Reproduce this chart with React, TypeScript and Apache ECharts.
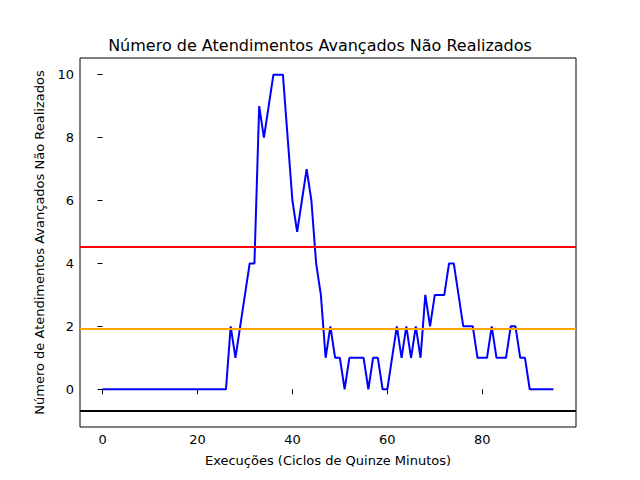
import React, { useEffect, useRef } from "react";
import * as echarts from "echarts";

const values = [
  0, 0, 0, 0, 0, 0, 0, 0, 0, 0, 0, 0, 0, 0, 0, 0, 0, 0, 0, 0, 0, 0, 0, 0, 0, 0,
  0, 2, 1, 2, 3, 4, 4, 9, 8, 9, 10, 10, 10, 8, 6, 5, 6, 7, 6, 4, 3, 1, 2, 1,
  1, 0, 1, 1, 1, 1, 0, 1, 1, 0, 0, 1, 2, 1, 2, 1, 2, 1, 3, 2, 3, 3, 3, 4, 4,
  3, 2, 2, 2, 1, 1, 1, 2, 1, 1, 1, 2, 2, 1, 1, 0, 0, 0, 0, 0, 0,
];
const xTicks = [0, 20, 40, 60, 80];
const yTicks = [0, 2, 4, 6, 8, 10];
const refLines = [
  { value: 4.52, color: "#ff0000" },
  { value: 1.91, color: "#ffa500" },
  { value: -0.67, color: "#000000" },
];

const font = "DejaVu Sans";

const App = () => {
  const chartRef = useRef<HTMLDivElement>(null);

  useEffect(() => {
    const chart = echarts.init(chartRef.current, null, { renderer: "svg" });
    chart.setOption({
      animation: false,
      textStyle: { fontFamily: font },
      title: {
        text: "Número de Atendimentos Avançados Não Realizados",
        left: "center",
        top: 32,
        textStyle: { fontFamily: font, fontSize: 16, fontWeight: "normal", color: "#000" },
      },
      grid: {
        left: 80, right: 64, top: 58, bottom: 53,
        show: true, borderColor: "#000", borderWidth: 1,
      },
      xAxis: {
        type: "value",
        min: -4.75,
        max: 99.75,
        name: "Execuções (Ciclos de Quinze Minutos)",
        nameLocation: "middle",
        nameGap: 27,
        nameTextStyle: { fontFamily: font, fontSize: 13, color: "#000" },
        splitLine: { show: false },
        axisLine: { show: false },
        axisTick: { show: true, inside: false, length: 5, customValues: xTicks, lineStyle: { color: "#000" } },
        axisLabel: { customValues: xTicks, fontFamily: font, fontSize: 13, color: "#000", margin: 6 },
      },
      yAxis: {
        type: "value",
        min: -1.2,
        max: 10.53,
        name: "Número de Atendimentos Avançados Não Realizados",
        nameLocation: "middle",
        nameGap: 34,
        nameTextStyle: { fontFamily: font, fontSize: 13, color: "#000" },
        splitLine: { show: false },
        axisLine: { show: false },
        axisTick: { show: true, inside: false, length: 5, customValues: yTicks, lineStyle: { color: "#000" } },
        axisLabel: { customValues: yTicks, fontFamily: font, fontSize: 13, color: "#000", margin: 6 },
      },
      series: [
        {
          type: "line",
          data: values.map((v, i) => [i, v]),
          showSymbol: false,
          lineStyle: { color: "#0000ff", width: 2 },
          markLine: {
            symbol: "none",
            silent: true,
            label: { show: false },
            data: refLines.map((r) => ({
              yAxis: r.value,
              lineStyle: { color: r.color, width: 2, type: "solid" },
            })),
          },
        },
      ],
    });
    return () => chart.dispose();
  }, []);

  return <div ref={chartRef} style={{ width: 640, height: 480, margin: -8 }} />;
};

export default App;
